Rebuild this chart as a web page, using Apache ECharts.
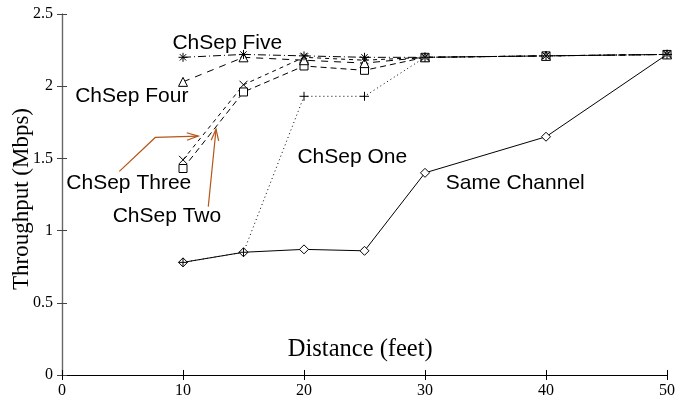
<!DOCTYPE html>
<html><head><meta charset="utf-8">
<script src="https://cdn.jsdelivr.net/npm/echarts@6/dist/echarts.min.js"></script>
<style>html,body{margin:0;padding:0;background:#fff}#c{width:691px;height:401px}</style>
</head><body><div id="c"></div>
<script>
const distances = [10, 15, 20, 25, 30, 40, 50];
const sameChannel = [0.78, 0.85, 0.87, 0.86, 1.40, 1.65, 2.22];
const chSepOne   = [0.78, 0.85, 1.93, 1.93, 2.20, 2.21, 2.22];
const chSepTwo   = [1.43, 1.96, 2.14, 2.11, 2.20, 2.21, 2.22];
const chSepThree = [1.49, 2.01, 2.20, 2.18, 2.20, 2.21, 2.22];
const chSepFour  = [2.03, 2.20, 2.18, 2.16, 2.20, 2.21, 2.22];
const chSepFive  = [2.20, 2.22, 2.21, 2.20, 2.20, 2.21, 2.22];
const xTicks = [0, 10, 20, 30, 40, 50];
const yTicks = [0, 0.5, 1, 1.5, 2, 2.5];

const pts = arr => distances.map((d, i) => [d, arr[i]]);
const PLUS = 'path://M0,5L10,5M5,0L5,10';
const CROSS = 'path://M0,0L10,10M10,0L0,10';
const STAR = 'path://M0,5L10,5M5,0L5,10M1.5,1.5L8.5,8.5M8.5,1.5L1.5,8.5';

function mk(name, data, symbol, size, dash, filled) {
  return {
    name, type: 'line', data: pts(data), symbol, symbolSize: size,
    lineStyle: { color: '#000', width: 1, type: dash },
    itemStyle: { color: filled ? '#fff' : 'none', borderColor: '#000', borderWidth: 1 },
    emphasis: { disabled: true }, animation: false, z: 3
  };
}

const serif = '"Liberation Serif", "DejaVu Serif", serif';
const sans = '"Liberation Sans", Arial, sans-serif';
const axisCommon = {
  type: 'value', splitLine: { show: false },
  axisTick: { show: true, inside: true, length: 5, lineStyle: { color: '#000' } },
};

const chart = echarts.init(document.getElementById('c'), null, { renderer: 'canvas' });
const option = {
  animation: false,
  grid: { left: 62, right: 24, top: 14, bottom: 26, containLabel: false, outerBoundsMode: 'none' },
  xAxis: [
    Object.assign({}, axisCommon, { min: 0, max: 50, interval: 10, position: 'bottom',
      axisLine: { show: true, lineStyle: { color: '#000', width: 1.2 } },
      axisLabel: { show: true, fontFamily: serif, fontSize: 16, color: '#000', margin: 8,
        formatter: v => xTicks.includes(v) ? String(v) : '' } }),
    Object.assign({}, axisCommon, { min: 0, max: 50, interval: 10, position: 'top',
      axisLine: { show: true, lineStyle: { color: '#000', width: 1.2 } },
      axisLabel: { show: false } })
  ],
  yAxis: [
    Object.assign({}, axisCommon, { min: 0, max: 2.5, interval: 0.5, position: 'left',
      axisLine: { show: true, lineStyle: { color: '#666', width: 1.2 } },
      axisTick: { show: true, inside: true, length: 5, lineStyle: { color: '#444' } },
      axisLabel: { show: true, fontFamily: serif, fontSize: 16, color: '#000', margin: 9,
        formatter: v => yTicks.includes(v) ? String(v) : '' },
      name: 'Throughput (Mbps)', nameLocation: 'middle', nameGap: 29, nameMoveOverlap: false,
      nameTextStyle: { fontFamily: serif, fontSize: 23, color: '#000', padding: [0, 9, 0, 0] } }),
    Object.assign({}, axisCommon, { min: 0, max: 2.5, interval: 0.5, position: 'right',
      axisLine: { show: true, lineStyle: { color: '#666', width: 1.2 } },
      axisTick: { show: true, inside: true, length: 5, lineStyle: { color: '#444' } },
      axisLabel: { show: false } })
  ],
  series: [
    mk('Same Channel', sameChannel, 'diamond', 9, 'solid', true),
    mk('ChSep One', chSepOne, PLUS, 9, [1, 3], false),
    mk('ChSep Two', chSepTwo, 'rect', 8, [6, 4], true),
    mk('ChSep Three', chSepThree, CROSS, 8, [4, 4], false),
    mk('ChSep Four', chSepFour, 'triangle', 9, [7, 6], true),
    mk('ChSep Five', chSepFive, STAR, 9, [8, 3, 1, 3], false)
  ]
};
chart.setOption(option);

const P = (x, y) => chart.convertToPixel({ gridIndex: 0 }, [x, y]);
const labels = [
  ['ChSep Five', 13.66, 2.30],
  ['ChSep Four', 5.77, 1.93],
  ['ChSep Three', 5.52, 1.33],
  ['ChSep Two', 8.67, 1.098],
  ['ChSep One', 23.99, 1.508],
  ['Same Channel', 37.46, 1.326]
];
const brown = '#b5561b';
const arrowThree = [[4.74, 1.41], [7.71, 1.645], [11.26, 1.654]];
const arrowTwo = [[12.09, 1.166], [12.73, 1.702]];
function arrowHead(pts) {
  const a = pts[pts.length - 2], b = pts[pts.length - 1];
  const ang = Math.atan2(b[1] - a[1], b[0] - a[0]);
  const L = 12, w = 0.32;
  return [[b[0] - L * Math.cos(ang - w), b[1] - L * Math.sin(ang - w)], b,
          [b[0] - L * Math.cos(ang + w), b[1] - L * Math.sin(ang + w)]];
}
const g = [];
labels.forEach(([t, x, y]) => {
  const p = P(x, y);
  g.push({ type: 'text', x: p[0], y: p[1], style: { text: t, fontFamily: sans, fontSize: 21,
    fill: '#000', align: 'center', verticalAlign: 'middle' }, z: 10 });
});
[arrowThree, arrowTwo].forEach(a => {
  const px = a.map(q => P(q[0], q[1]));
  g.push({ type: 'polyline', shape: { points: px }, style: { stroke: brown, lineWidth: 1.2, fill: null }, z: 10 });
  g.push({ type: 'polyline', shape: { points: arrowHead(px) }, style: { stroke: brown, lineWidth: 1.2, fill: null }, z: 10 });
});
const dp = P(24.65, 0.176);
g.push({ type: 'text', x: dp[0], y: dp[1], style: { text: 'Distance (feet)', fontFamily: serif, fontSize: 24.5,
  fill: '#000', align: 'center', verticalAlign: 'middle' }, z: 10 });
chart.setOption({ graphic: g });
</script></body></html>
